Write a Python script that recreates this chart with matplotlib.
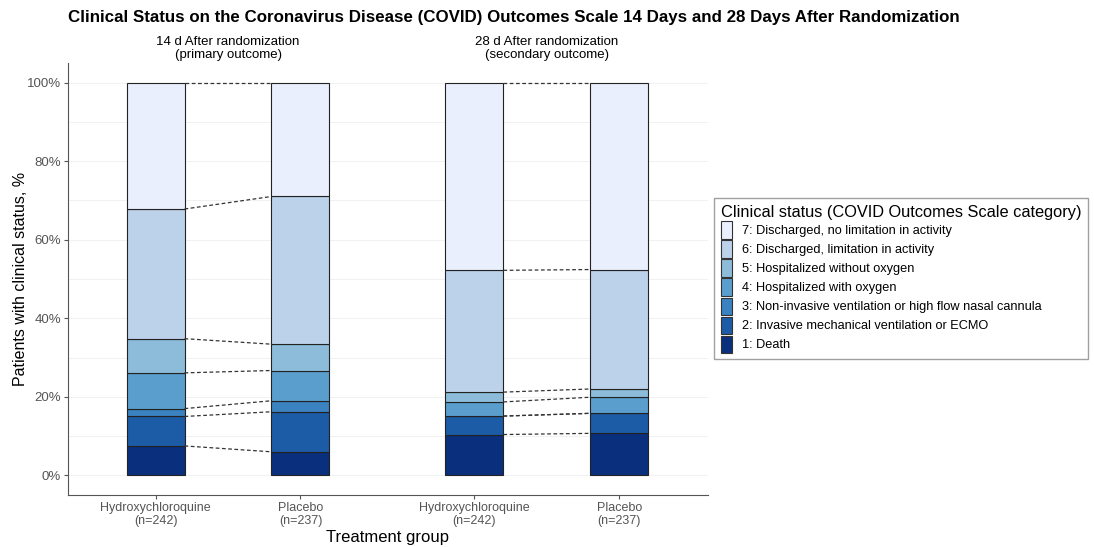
import matplotlib.pyplot as plt
import numpy as np
from matplotlib.patches import Patch

# Percent of patients in each category (1: Death ... 7: Discharged, no limitation)
categorias = ['1: Death',
              '2: Invasive mechanical ventilation or ECMO',
              '3: Non-invasive ventilation or high flow nasal cannula',
              '4: Hospitalized with oxygen',
              '5: Hospitalized without oxygen',
              '6: Discharged, limitation in activity',
              '7: Discharged, no limitation in activity']
hcq_14 = [7.5, 7.5, 2.0, 9.1, 8.7, 33.0, 32.2]
pla_14 = [6.0, 10.2, 2.8, 7.7, 6.7, 37.6, 29.0]
hcq_28 = [10.4, 4.7, 0.0, 3.6, 2.5, 31.0, 47.8]
pla_28 = [10.7, 5.1, 0.0, 4.1, 2.1, 30.4, 47.6]

grupos = ['Hydroxychloroquine\n(n=242)', 'Placebo\n(n=237)',
          'Hydroxychloroquine\n(n=242)', 'Placebo\n(n=237)']
subtitulos = ['14 d After randomization\n(primary outcome)',
              '28 d After randomization\n(secondary outcome)']

cores = ['#0a2f7d', '#1c5ca6', '#3a82c0', '#5a9ece', '#8cbcd9', '#bcd2eb', '#e9effc']

x = np.array([1.0, 2.0, 3.2, 4.2])
width = 0.4
dados = [hcq_14, pla_14, hcq_28, pla_28]

plt.rcParams['font.family'] = ['Liberation Sans', 'DejaVu Sans']

fig = plt.figure(figsize=(10.94, 5.47), dpi=100)
ax = fig.add_axes([0.062, 0.095, 0.585, 0.79])

# stacked bars
for xi, vals in zip(x, dados):
    base = 0
    for v, c in zip(vals, cores):
        ax.bar(xi, v, width, bottom=base, color=c, edgecolor='#222222', linewidth=0.8)
        base += v

# dashed connectors between bars of the same time point
for a, b in [(0, 1), (2, 3)]:
    ca = np.cumsum(dados[a])
    cb = np.cumsum(dados[b])
    for ya, yb in zip(ca, cb):
        ax.plot([x[a] + width/2, x[b] - width/2], [ya, yb], ls=(0, (3, 2)),
                color='#333333', lw=0.9)

ax.set_xlim(0.395, 4.81)
ax.set_ylim(-5, 105)
ax.set_yticks([0, 20, 40, 60, 80, 100])
ax.set_yticklabels([f'{v}%' for v in [0, 20, 40, 60, 80, 100]], fontsize=9.5, color='#555555')
ax.set_xticks(x)
ax.set_xticklabels(grupos, fontsize=9, color='#555555', linespacing=1.1)
ax.set_yticks(np.arange(10, 100, 20), minor=True)
ax.grid(True, axis='y', which='both', color='#efefef', lw=0.6)
ax.set_axisbelow(True)
for s in ['top', 'right']:
    ax.spines[s].set_visible(False)
for s in ['left', 'bottom']:
    ax.spines[s].set_color('#555555')
ax.tick_params(axis='both', which='major', length=3, color='#555555', pad=2)
ax.tick_params(axis='y', which='minor', length=0)
ax.set_ylabel('Patients with clinical status, %', fontsize=11.5, labelpad=-1)
ax.set_xlabel('Treatment group', fontsize=12, labelpad=2)

# time-point headers
for i, txt in enumerate(subtitulos):
    xc = (x[2*i] + x[2*i+1]) / 2
    ax.text(xc, 1.005, txt, transform=ax.get_xaxis_transform(), ha='center', va='bottom',
            fontsize=9.5, linespacing=1.1)

fig.text(0.062, 0.968, 'Clinical Status on the Coronavirus Disease (COVID) Outcomes Scale 14 Days and 28 Days After Randomization',
         fontsize=12.2, fontweight='bold', va='center')

# legend (7 on top)
handles = [Patch(facecolor=c, edgecolor='#333333', lw=0.8) for c in cores[::-1]]
leg = fig.legend(handles, categorias[::-1], loc='center left', bbox_to_anchor=(0.653, 0.49),
                 title='Clinical status (COVID Outcomes Scale category)',
                 prop={'size': 9.2}, title_fontproperties={'size': 11.8},
                 frameon=True, fancybox=False, edgecolor='#888888',
                 handlelength=0.9, handleheight=1.73, handletextpad=0.8,
                 labelspacing=0.12, borderpad=0.5, borderaxespad=0)
leg._legend_box.align = 'left'

plt.savefig('out.png', dpi=100)
